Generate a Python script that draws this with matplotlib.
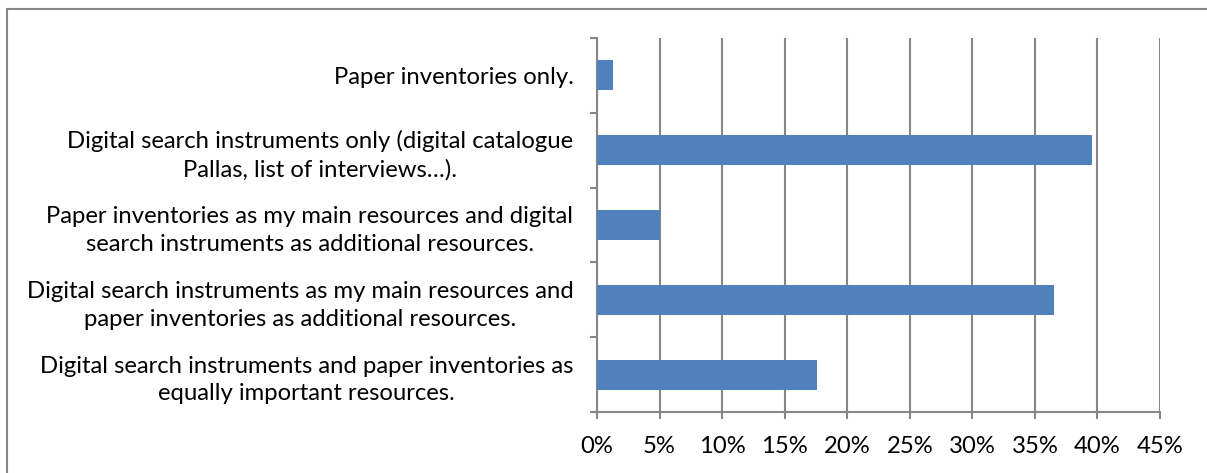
import matplotlib.pyplot as plt
import matplotlib as mpl
from matplotlib.patches import Rectangle
import numpy as np

categories = [
    'Paper inventories only.',
    'Digital search instruments only (digital catalogue\nPallas, list of interviews…).',
    'Paper inventories as my main resources and digital\nsearch instruments as additional resources.',
    'Digital search instruments as my main resources and\npaper inventories as additional resources.',
    'Digital search instruments and paper inventories as\nequally important resources.',
]
shares = [1.3, 39.6, 5.0, 36.5, 17.6]
x_ticks = [0, 5, 10, 15, 20, 25, 30, 35, 40, 45]

mpl.rcParams['font.family'] = ['Lato', 'DejaVu Sans']
mpl.rcParams['font.size'] = 17.2

grey = '#868686'

fig = plt.figure(figsize=(12.07, 4.73), dpi=100)
ax = fig.add_axes([597/1207, 1 - 412/473, (1160 - 597)/1207, (412 - 38)/473])

# outer chart frame
fig.patches.append(Rectangle((7/1207, -0.1), 1.2, 1 - 9/473 + 0.1,
                             transform=fig.transFigure, fill=False,
                             edgecolor=grey, linewidth=1.5))

y = np.arange(len(categories))
ax.barh(y, shares, height=0.4, color='#4F81BD', zorder=3)

ax.set_xlim(0, 45)
ax.set_ylim(len(categories) - 0.5, -0.5)
ax.set_xticks(x_ticks)
ax.set_xticklabels([f'{t}%' for t in x_ticks])
ax.grid(axis='x', color=grey, linewidth=1.5, zorder=0)

ax.set_yticks(y)
ax.set_yticklabels(categories, multialignment='center', linespacing=1.4)
ax.set_yticks(np.arange(len(categories) + 1) - 0.5, minor=True)
ax.tick_params(axis='y', which='major', length=0, pad=17)
ax.tick_params(axis='y', which='minor', length=5, color=grey, width=1.5)
ax.tick_params(axis='x', length=5, color=grey, width=1.5, pad=12)

for side in ['top', 'right']:
    ax.spines[side].set_visible(False)
for side in ['left', 'bottom']:
    ax.spines[side].set_color(grey)
    ax.spines[side].set_linewidth(1.5)

fig.savefig('out.png', dpi=100)
